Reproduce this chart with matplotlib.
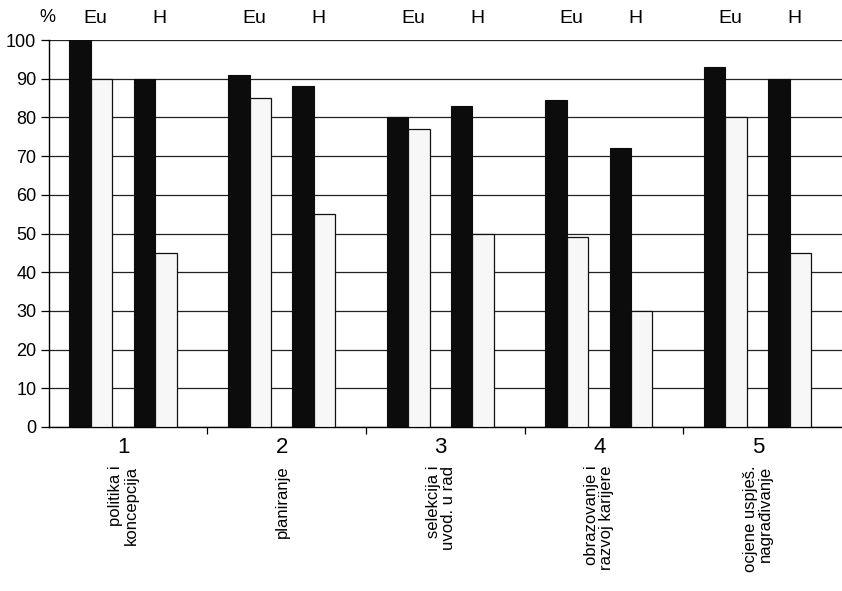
import matplotlib.pyplot as plt
import numpy as np

plt.rcParams['font.family'] = ['Liberation Sans', 'DejaVu Sans']

groups = ["1", "2", "3", "4", "5"]
names = ["politika i\nkoncepcija", "planiranje", "selekcija i\nuvod. u rad",
         "obrazovanje i\nrazvoj karijere", "ocjene uspješ.\nnagrađivanje"]
eu_black = [100, 91, 80, 84.5, 93]
eu_white = [90, 85, 77, 49, 80]
h_black = [90, 88, 83, 72, 90]
h_white = [45, 55, 50, 30, 45]

fig = plt.figure(figsize=(8.42, 5.91), dpi=100)
ax = fig.add_axes([0.058, 0.2775, 0.942, 0.6548])

x = np.arange(len(groups)) + 0.5
w = 0.135
eu_c = x - 0.235
h_c = x + 0.17
kw_b = dict(width=w, color="#0c0c0c", edgecolor="#0c0c0c", lw=0.8, zorder=3)
kw_w = dict(width=w, color="#f7f7f7", edgecolor="#111111", lw=0.9, zorder=3)
ax.bar(eu_c - w / 2, eu_black, **kw_b)
ax.bar(eu_c + w / 2, eu_white, **kw_w)
ax.bar(h_c - w / 2, h_black, **kw_b)
ax.bar(h_c + w / 2, h_white, **kw_w)

ax.set_xlim(0, 5)
ax.set_ylim(0, 100)
ax.set_yticks(range(0, 101, 10))
ax.yaxis.grid(True, color="#222222", lw=0.9)
ax.set_axisbelow(True)
for s in ["top", "right"]:
    ax.spines[s].set_visible(False)
ax.spines["left"].set_linewidth(1.0)
ax.spines["bottom"].set_linewidth(1.0)
ax.tick_params(axis="y", length=6, width=0.9, labelsize=13, pad=3)
ax.set_xticks(np.arange(1, 5))
ax.set_xticklabels([])
ax.tick_params(axis="x", length=5, width=0.9)

tr = ax.get_xaxis_transform()
for xi, g, n in zip(x, groups, names):
    ax.text(xi - 0.03, -0.025, g, transform=tr, ha="center", va="top", fontsize=16)
    ax.text(xi - 0.03, -0.1, n, transform=tr, ha="center", va="top",
            rotation=90, multialignment="right", fontsize=12, linespacing=1.0)
for e, h in zip(eu_c, h_c):
    ax.text(e + 0.03, 1.055, "Eu", transform=tr, ha="center", va="center", fontsize=14)
    ax.text(h + 0.03, 1.055, "H", transform=tr, ha="center", va="center", fontsize=14)
ax.text(-0.002, 1.058, "%", transform=ax.transAxes, ha="center", va="center", fontsize=13)

fig.savefig("out.png", dpi=100)
